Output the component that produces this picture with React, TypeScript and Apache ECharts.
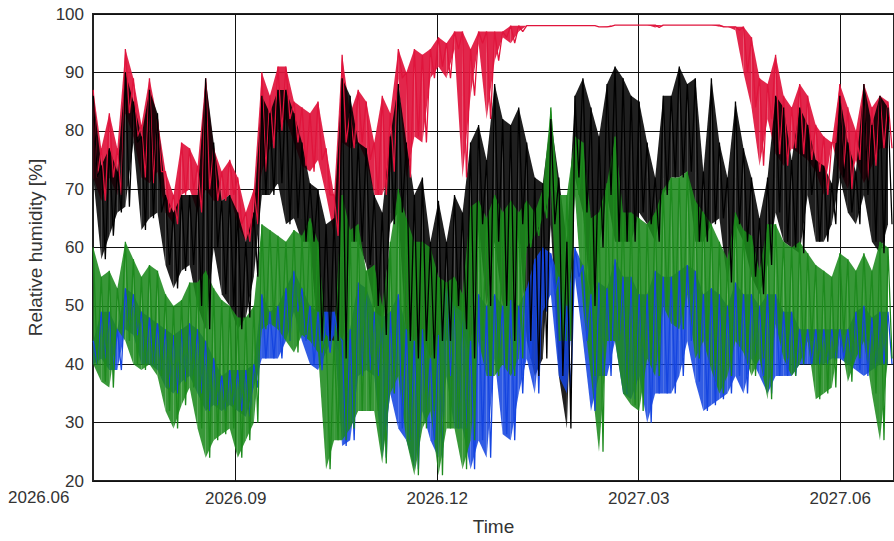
import React, { useEffect, useRef } from "react";
import * as echarts from "echarts";

// x axis: months counted from 2026.06
const tickMonths = [0, 3, 6, 9, 12];
const tickLabels = ["2026.06", "2026.09", "2026.12", "2027.03", "2027.06"];
const axisMinMonth = 0.876;
const axisMaxMonth = 12.8;
const firstSampleMonth = 0.88;
const sampleStepMonth = 0.1195;

const yTicks = [20, 30, 40, 50, 60, 70, 80, 90, 100];

// each series: per sample window, the high and the low reading (relative humidity %)
const redHigh = [87, 77, 83, 77, 94, 89, 81, 89, 82, 73, 69, 78, 77, 74, 89, 77, 73, 75, 72, 66,
  70, 90, 86, 91, 91, 85, 84, 83, 85, 77, 69, 93, 83, 87, 85, 78, 86, 83, 94, 90,
  94, 93, 94, 96, 95, 97, 97, 94, 97, 97, 97, 97, 98, 98, 98, 98, 98, 98, 98, 98,
  98, 98, 98, 97.8, 97.8, 98.1, 98.1, 98.1, 98.1, 98.1, 98.1, 98.1, 98.1, 98.1, 98.1, 98.1, 98.1, 98.1, 98.1, 97.8,
  97.8, 97.8, 96, 89, 88, 93, 86, 84, 88, 86, 81, 79, 78, 88, 84, 80, 88, 84, 86, 85];
const redLow = [72, 68, 72, 69, 83, 79, 72, 71, 73, 66, 64, 69, 70, 66, 70, 68, 68, 69, 64, 61,
  64, 73, 77, 80, 82, 78, 74, 73, 75, 69, 62, 78, 77, 78, 75, 69, 69, 73, 89, 72,
  79, 78, 89, 91, 89, 94, 72, 86, 95, 82, 92, 96, 95, 97, 98, 98, 98, 98, 98, 98,
  98, 98, 98, 97.8, 97.9, 98.1, 98.1, 98.1, 98.1, 98.1, 97.7, 98.1, 98.1, 98.1, 98.1, 98.1, 98.1, 98.1, 97.8, 97.8,
  97.2, 90, 84, 74, 82, 76, 74, 77, 76, 75, 73, 69, 78, 73, 70, 75, 71, 74, 77, 77];

const blackHigh = [86, 74, 77, 73, 90, 85, 79, 87, 83, 69, 66, 69, 69, 69, 89, 78, 68, 69, 66, 61,
  66, 86, 83, 87, 87, 83, 78, 71, 70, 64, 65, 89, 86, 78, 77, 69, 66, 79, 88, 78,
  69, 72, 61, 68, 61, 69, 66, 78, 81, 75, 88, 82, 81, 84, 78, 72, 71, 82, 72, 61,
  86, 89, 84, 79, 88, 91, 89, 86, 85, 78, 72, 86, 86, 91, 88, 89, 73, 89, 78, 72,
  85, 77, 72, 65, 72, 86, 84, 75, 84, 81, 75, 74, 71, 86, 78, 73, 88, 81, 86, 84];
const blackLow = [72, 58, 62, 66, 67, 78, 63, 65, 66, 57, 53, 56, 57, 50, 46, 60, 52, 50, 46, 48,
  55, 69, 69, 71, 64, 65, 61, 61, 44, 44, 44, 41, 61, 61, 57, 50, 45, 64, 66, 44,
  41, 44, 41, 44, 44, 50, 46, 41, 64, 50, 61, 50, 44, 64, 44, 38, 41, 64, 38, 29,
  72, 66, 50, 60, 69, 61, 61, 61, 66, 64, 61, 69, 72, 72, 73, 61, 61, 64, 65, 54,
  64, 61, 55, 52, 57, 66, 61, 60, 59, 69, 61, 61, 64, 72, 66, 64, 69, 61, 59, 64];

const blueHigh = [44, 49, 49, 46, 53, 52, 49, 48, 47, 46, 45, 46, 47, 46, 44, 41, 38, 39, 39, 39,
  40, 52, 49, 50, 53, 56, 53, 50, 49, 49, 49, 44, 46, 54, 53, 49, 48, 49, 52, 46,
  44, 46, 41, 45, 53, 50, 49, 44, 52, 50, 52, 50, 51, 50, 53, 58, 60, 59, 55, 50,
  60, 57, 52, 54, 53, 58, 55, 55, 52, 52, 56, 55, 55, 56, 57, 56, 52, 53, 52, 50,
  54, 52, 52, 50, 52, 52, 49, 49, 46, 46, 46, 46, 46, 46, 46, 49, 50, 48, 49, 49];
const blueLow = [40, 41, 39, 39, 46, 45, 40, 40, 39, 36, 35, 37, 38, 35, 32, 33, 32, 33, 32, 31,
  36, 41, 41, 41, 44, 49, 44, 40, 39, 42, 45, 26, 27, 38, 39, 38, 24, 35, 29, 27,
  22, 32, 27, 24, 38, 29, 29, 22, 27, 24, 41, 28, 27, 35, 41, 35, 49, 52, 38, 35,
  55, 44, 32, 38, 38, 44, 35, 34, 38, 30, 35, 35, 35, 38, 44, 37, 32, 33, 34, 35,
  38, 35, 41, 38, 35, 38, 38, 38, 40, 40, 40, 40, 41, 41, 40, 39, 38, 39, 40, 40];

const greenHigh = [60, 55, 56, 53, 61, 58, 55, 57, 56, 52, 50, 51, 54, 54, 56, 53, 51, 50, 48, 48,
  50, 64, 63, 62, 61, 63, 62, 65, 61, 45, 44, 69, 63, 64, 56, 57, 50, 61, 70, 65,
  61, 61, 60, 55, 54, 55, 52, 67, 68, 65, 69, 66, 68, 66, 68, 66, 70, 84, 69, 69,
  79, 78, 65, 66, 71, 79, 66, 66, 65, 64, 66, 70, 72, 72, 73, 68, 66, 64, 61, 58,
  66, 63, 62, 56, 64, 64, 61, 60, 61, 59, 57, 56, 55, 59, 58, 56, 59, 56, 61, 60];
const greenLow = [40, 37, 36, 46, 44, 40, 39, 40, 38, 32, 29, 33, 36, 29, 24, 27, 28, 29, 24, 27,
  30, 46, 47, 46, 44, 42, 45, 44, 42, 22, 27, 27, 29, 32, 32, 32, 23, 35, 38, 27,
  21, 29, 32, 21, 29, 29, 22, 27, 44, 38, 38, 40, 38, 41, 60, 62, 65, 70, 44, 44,
  69, 50, 38, 25, 44, 44, 35, 33, 32, 41, 38, 50, 47, 46, 52, 41, 44, 39, 35, 38,
  44, 42, 38, 41, 34, 47, 41, 38, 40, 44, 34, 35, 36, 45, 37, 41, 44, 35, 27, 41];

const FONT = "'Liberation Sans', Arial, sans-serif";

function bandSeries(name: string, color: string, high: number[], low: number[], opacity: number) {
  const data = high.map((h, i) => [firstSampleMonth + i * sampleStepMonth, h, low[i]]);
  return {
    name,
    type: "custom",
    data,
    encode: { x: 0, y: [1, 2] },
    clip: true,
    silent: true,
    renderItem: (params: any, api: any) => {
      const i = params.dataIndex;
      if (i >= data.length - 1) return null;
      const a = data[i];
      const b = data[i + 1];
      const pts = [
        api.coord([a[0], a[1]]),
        api.coord([b[0], b[1]]),
        api.coord([b[0], b[2]]),
        api.coord([a[0], a[2]]),
      ];
      return {
        type: "polygon",
        shape: { points: pts },
        style: { fill: color, opacity, stroke: null },
      };
    },
  };
}

function zigzagSeries(name: string, color: string, high: number[], low: number[]) {
  const data: number[][] = [];
  for (let i = 0; i < high.length; i++) {
    const t = firstSampleMonth + i * sampleStepMonth;
    data.push([t, high[i]]);
    data.push([t + sampleStepMonth / 2, low[i]]);
  }
  return {
    name,
    type: "line",
    data,
    showSymbol: false,
    symbol: "none",
    lineStyle: { color, width: 1.3 },
    itemStyle: { color },
  };
}

export default function App() {
  const ref = useRef<HTMLDivElement>(null);
  useEffect(() => {
    if (!ref.current) return;
    const chart = echarts.init(ref.current, null, { renderer: "svg" });
    chart.setOption({
      animation: false,
      backgroundColor: "#ffffff",
      grid: {
        left: 93,
        top: 14,
        right: -3,
        bottom: 60,
        show: true,
        borderColor: "#222",
        borderWidth: 2,
        backgroundColor: "transparent",
      },
      xAxis: {
        type: "value",
        min: axisMinMonth,
        max: axisMaxMonth,
        name: "Time",
        nameLocation: "middle",
        nameGap: 36,
        nameTextStyle: { fontFamily: FONT, fontSize: 19, color: "#333" },
        axisLine: { show: false },
        axisTick: { show: false, customValues: tickMonths.slice(1) },
        axisLabel: {
          customValues: tickMonths.slice(1),
          fontFamily: FONT,
          fontSize: 17,
          color: "#333",
          margin: 9,
          formatter: (v: number) => {
            const idx = tickMonths.findIndex((m) => Math.abs(m - v) < 1e-6);
            return idx >= 0 ? tickLabels[idx] : "";
          },
        },
        splitLine: { show: true, lineStyle: { color: "#111", width: 1 } },
      },
      yAxis: {
        type: "value",
        min: yTicks[0],
        max: yTicks[yTicks.length - 1],
        interval: 10,
        name: "Relative humidity [%]",
        nameLocation: "middle",
        nameGap: 48,
        nameTextStyle: { fontFamily: FONT, fontSize: 19, color: "#333" },
        axisLine: { show: false },
        axisTick: { show: false },
        axisLabel: { fontFamily: FONT, fontSize: 17, color: "#333", margin: 9 },
        splitLine: { show: true, lineStyle: { color: "#111", width: 1 } },
      },
      graphic: [
        {
          type: "text",
          left: 8,
          top: 489,
          style: { text: tickLabels[0], font: `17px ${FONT}`, fill: "#333" },
        },
      ],
      series: [
        bandSeries("Sensor A band", "#e0143c", redHigh, redLow, 0.92),
        zigzagSeries("Sensor A", "#e0143c", redHigh, redLow),
        bandSeries("Sensor B band", "#000000", blackHigh, blackLow, 0.88),
        bandSeries("Sensor C band", "#1545e0", blueHigh, blueLow, 0.88),
        bandSeries("Sensor D band", "#1d8a1d", greenHigh, greenLow, 0.88),
        zigzagSeries("Sensor C", "#1545e0", blueHigh, blueLow),
        zigzagSeries("Sensor D", "#1d8a1d", greenHigh, greenLow),
        zigzagSeries("Sensor B", "#000000", blackHigh, blackLow),
      ],
    });
    return () => chart.dispose();
  }, []);
  return (
    <div
      ref={ref}
      style={{ position: "fixed", left: 0, top: 0, width: 894, height: 541, background: "#fff" }}
    />
  );
}
